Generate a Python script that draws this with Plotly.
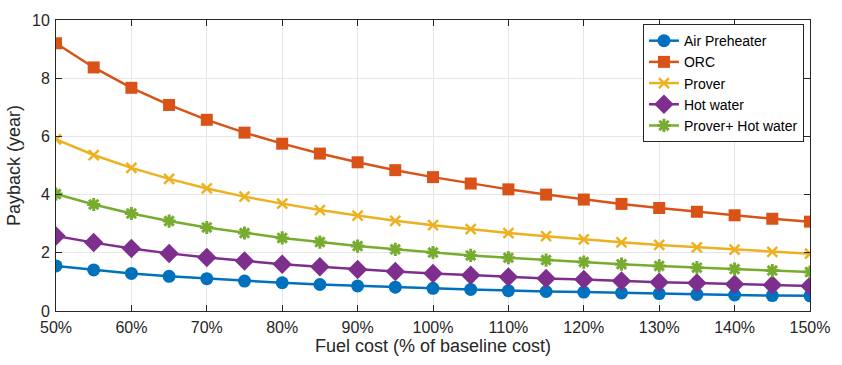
import plotly.graph_objects as go

fuel_cost = [50, 55, 60, 65, 70, 75, 80, 85, 90, 95, 100, 105, 110, 115, 120, 125, 130, 135, 140, 145, 150]

air_preheater = [1.55, 1.41, 1.29, 1.19, 1.11, 1.03, 0.97, 0.91, 0.86, 0.82, 0.78, 0.74, 0.70, 0.67, 0.65, 0.62, 0.60, 0.57, 0.55, 0.53, 0.52]
orc = [9.20, 8.37, 7.67, 7.08, 6.57, 6.13, 5.75, 5.41, 5.11, 4.84, 4.60, 4.38, 4.18, 4.00, 3.83, 3.68, 3.54, 3.41, 3.29, 3.17, 3.07]
prover = [5.90, 5.36, 4.92, 4.54, 4.21, 3.93, 3.69, 3.47, 3.28, 3.10, 2.95, 2.81, 2.68, 2.57, 2.46, 2.36, 2.27, 2.19, 2.11, 2.03, 1.97]
hot_water = [2.58, 2.35, 2.15, 1.98, 1.84, 1.72, 1.61, 1.52, 1.43, 1.36, 1.29, 1.23, 1.17, 1.12, 1.08, 1.03, 0.99, 0.96, 0.92, 0.89, 0.86]
prover_hot_water = [4.02, 3.66, 3.35, 3.09, 2.87, 2.68, 2.51, 2.37, 2.23, 2.12, 2.01, 1.91, 1.83, 1.75, 1.68, 1.61, 1.55, 1.49, 1.44, 1.39, 1.34]

x_tickvals = [50, 60, 70, 80, 90, 100, 110, 120, 130, 140, 150]
x_ticktext = ["50%", "60%", "70%", "80%", "90%", "100%", "110%", "120%", "130%", "140%", "150%"]
y_tickvals = [0, 2, 4, 6, 8, 10]

series = [
    ("Air Preheater", air_preheater, "#0072BD", dict(symbol="circle", size=13)),
    ("ORC", orc, "#D95319", dict(symbol="square", size=12)),
    ("Prover", prover, "#EDB120", dict(symbol="x-thin-open", size=10, line=dict(width=2.5, color="#EDB120"))),
    ("Hot water", hot_water, "#7E2F8E", dict(symbol="diamond", size=15)),
    ("Prover+ Hot water", prover_hot_water, "#77AC30", dict(symbol="asterisk-open", size=11, line=dict(width=3, color="#77AC30"))),
]

fig = go.Figure()
for name, vals, color, mk in series:
    m = dict(color=color)
    m.update(mk)
    fig.add_trace(go.Scatter(x=fuel_cost, y=vals, name=name, mode="lines+markers",
                             line=dict(color=color, width=2.5), marker=m))

fig.update_layout(
    width=842, height=365,
    margin=dict(l=56, r=21, t=17, b=53),
    paper_bgcolor="white", plot_bgcolor="white",
    font=dict(family="Liberation Sans, Arial", size=16, color="#262626"),
    showlegend=True,
    legend=dict(x=0.992, y=0.986, xanchor="right", yanchor="top",
                bgcolor="white", bordercolor="#262626", borderwidth=1,
                font=dict(size=14, color="#000000"), tracegroupgap=0,
                itemwidth=30),
)
fig.update_xaxes(range=[50, 150], tickvals=x_tickvals, ticktext=x_ticktext,
                 showgrid=True, gridcolor="#E6E6E6", gridwidth=1,
                 showline=True, linecolor="#262626", linewidth=1, mirror="ticks",
                 ticks="inside", ticklen=6, tickcolor="#262626",
                 zeroline=False, ticklabelstandoff=2,
                 title=dict(text="Fuel cost (% of baseline cost)", font=dict(size=18), standoff=4))
fig.update_yaxes(range=[0, 10], tickvals=y_tickvals,
                 showgrid=True, gridcolor="#E6E6E6", gridwidth=1,
                 showline=True, linecolor="#262626", linewidth=1, mirror="ticks",
                 ticks="inside", ticklen=6, tickcolor="#262626",
                 zeroline=False, ticklabelstandoff=2,
                 title=dict(text="Payback (year)", font=dict(size=18), standoff=6))

fig.write_html("out.html")
